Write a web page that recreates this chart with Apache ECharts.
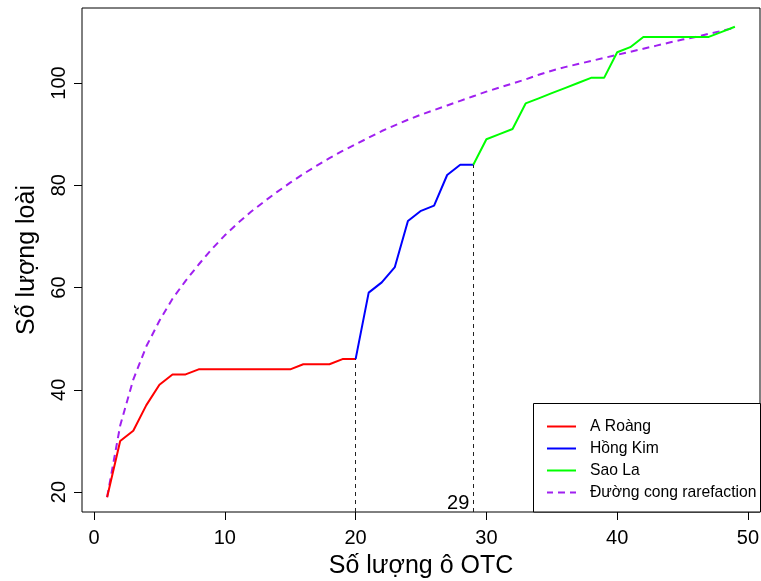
<!DOCTYPE html>
<html>
<head>
<meta charset="utf-8">
<script src="https://cdn.jsdelivr.net/npm/echarts@6/dist/echarts.min.js"></script>
<style>
html,body{margin:0;padding:0;background:#fff;}
#chart{width:761px;height:581px;}
</style>
</head>
<body>
<div id="chart"></div>
<script>
// ---- data ----
const aRoangX = [1,2,3,4,5,6,7,8,9,10,11,12,13,14,15,16,17,18,19,20];
const aRoangY = [19,30,32,37,41,43,43,44,44,44,44,44,44,44,44,45,45,45,46,46];
const hongKimX = [20,21,22,23,24,25,26,27,28,29];
const hongKimY = [46,59,61,64,73,75,76,82,84,84];
const saoLaX = [29,30,31,32,33,34,35,36,37,38,39,40,41,42,43,44,45,46,47,48,49];
const saoLaY = [84,89,90,91,96,97,98,99,100,101,101,106,107,109,109,109,109,109,109,110,111];
const rareX = [1,2,3,4,5,6,7,8,9,10,11,12,13,14,15,16,17,18,19,20,21,22,23,24,25,26,27,28,29,30,31,32,33,34,35,36,37,38,39,40,41,42,43,44,45,46,47,48,49];
const rareY = [19,33,42,48.5,53.5,57.8,61.3,64.5,67.5,70.2,72.6,74.8,76.8,78.7,80.5,82.2,83.8,85.3,86.7,88.0,89.3,90.6,91.7,92.8,93.8,94.7,95.6,96.5,97.4,98.3,99.1,99.9,100.7,101.6,102.4,103.1,103.7,104.3,104.9,105.5,106.1,106.7,107.3,107.9,108.5,109.0,109.6,110.2,110.8];
const breakX = [20, 29];
const breakY = [46, 84];
const breakLabel = '29';
const xTicks = [0,10,20,30,40,50];
const yTicks = [20,40,60,80,100];
const seriesNames = ['A Roàng','Hồng Kim','Sao La','Đường cong rarefaction'];
const xTitle = 'Số lượng ô OTC';
const yTitle = 'Số lượng loài';

const xMin = -0.92, xMax = 50.92, yMin = 16.1, yMax = 114.66;
const zip = (xs, ys) => xs.map((x, i) => [x, ys[i]]);
const FONT = 'Liberation Sans, Arial, sans-serif';
const SOLID_ICON = 'rect';
const DASH_ICON = 'path://M0,0h6v2h-6z M11,0h7v2h-7z M23,0h6v2h-6z';

const chart = echarts.init(document.getElementById('chart'), null, {renderer: 'canvas'});
const option = {
  animation: false,
  backgroundColor: '#fff',
  textStyle: {fontFamily: FONT},
  grid: {left: 82, top: 8, width: 678, height: 504, show: true, borderColor: '#000', borderWidth: 1, backgroundColor: 'transparent', containLabel: false, outerBoundsMode: 'none'},
  xAxis: {
    type: 'value', min: xMin, max: xMax,
    axisLine: {show: false, onZero: false},
    splitLine: {show: false},
    axisTick: {show: true, inside: false, length: 8, customValues: xTicks, lineStyle: {color: '#000', width: 1}},
    axisLabel: {customValues: xTicks, color: '#000', fontSize: 20, fontFamily: FONT, margin: 16},
    name: xTitle, nameLocation: 'middle', nameGap: 42,
    nameTextStyle: {color: '#000', fontSize: 25, fontFamily: FONT}
  },
  yAxis: {
    type: 'value', min: yMin, max: yMax,
    axisLine: {show: false, onZero: false},
    splitLine: {show: false},
    axisTick: {show: true, inside: false, length: 8, customValues: yTicks, lineStyle: {color: '#000', width: 1}},
    axisLabel: {customValues: yTicks, color: '#000', fontSize: 20, fontFamily: FONT, rotate: 90, margin: 12.5},
    name: yTitle, nameLocation: 'middle', nameGap: 42, nameRotate: 90,
    nameTextStyle: {color: '#000', fontSize: 25, fontFamily: FONT}
  },
  legend: {
    show: true, orient: 'vertical', left: 547, top: 418.5, padding: 0,
    itemWidth: 29, itemHeight: 2, itemGap: 6.0,
    data: [
      {name: seriesNames[0], icon: SOLID_ICON},
      {name: seriesNames[1], icon: SOLID_ICON},
      {name: seriesNames[2], icon: SOLID_ICON},
      {name: seriesNames[3], icon: DASH_ICON}
    ],
    textStyle: {color: '#000', fontSize: 15.7, fontFamily: FONT, padding: [0,0,0,9]},
    z: 10
  },
  graphic: [{
    type: 'rect', z: 5, silent: true,
    shape: {x: 533.5, y: 403.5, width: 227, height: 108.5},
    style: {fill: '#fff', stroke: '#000', lineWidth: 1}
  }],
  series: [
    {
      name: seriesNames[0], type: 'line', data: zip(aRoangX, aRoangY), symbol: 'none',
      lineStyle: {color: '#FF0000', width: 2}, itemStyle: {color: '#FF0000'}, z: 3,
      markLine: {
        silent: true, symbol: 'none', label: {show: false},
        lineStyle: {color: '#222', width: 1, type: [4,4]},
        data: breakX.map((bx, i) => [{coord: [bx, yMin]}, {coord: [bx, breakY[i]]}])
      }
    },
    {
      name: seriesNames[1], type: 'line', data: zip(hongKimX, hongKimY), symbol: 'none',
      lineStyle: {color: '#0000FF', width: 2}, itemStyle: {color: '#0000FF'}, z: 3
    },
    {
      name: seriesNames[2], type: 'line', data: zip(saoLaX, saoLaY), symbol: 'none',
      lineStyle: {color: '#00FF00', width: 2}, itemStyle: {color: '#00FF00'}, z: 3,
      markPoint: {
        silent: true, symbol: 'circle', symbolSize: 0,
        label: {show: true, position: 'left', distance: 4, formatter: breakLabel, color: '#000', fontSize: 20, fontFamily: FONT},
        data: [{coord: [breakX[1], 17.8]}]
      }
    },
    {
      name: seriesNames[3], type: 'line', data: zip(rareX, rareY), symbol: 'none',
      lineStyle: {color: '#A020F0', width: 2, type: [7,5]}, itemStyle: {color: '#A020F0'}, z: 2
    }
  ]
};
chart.setOption(option);
</script>
</body>
</html>
